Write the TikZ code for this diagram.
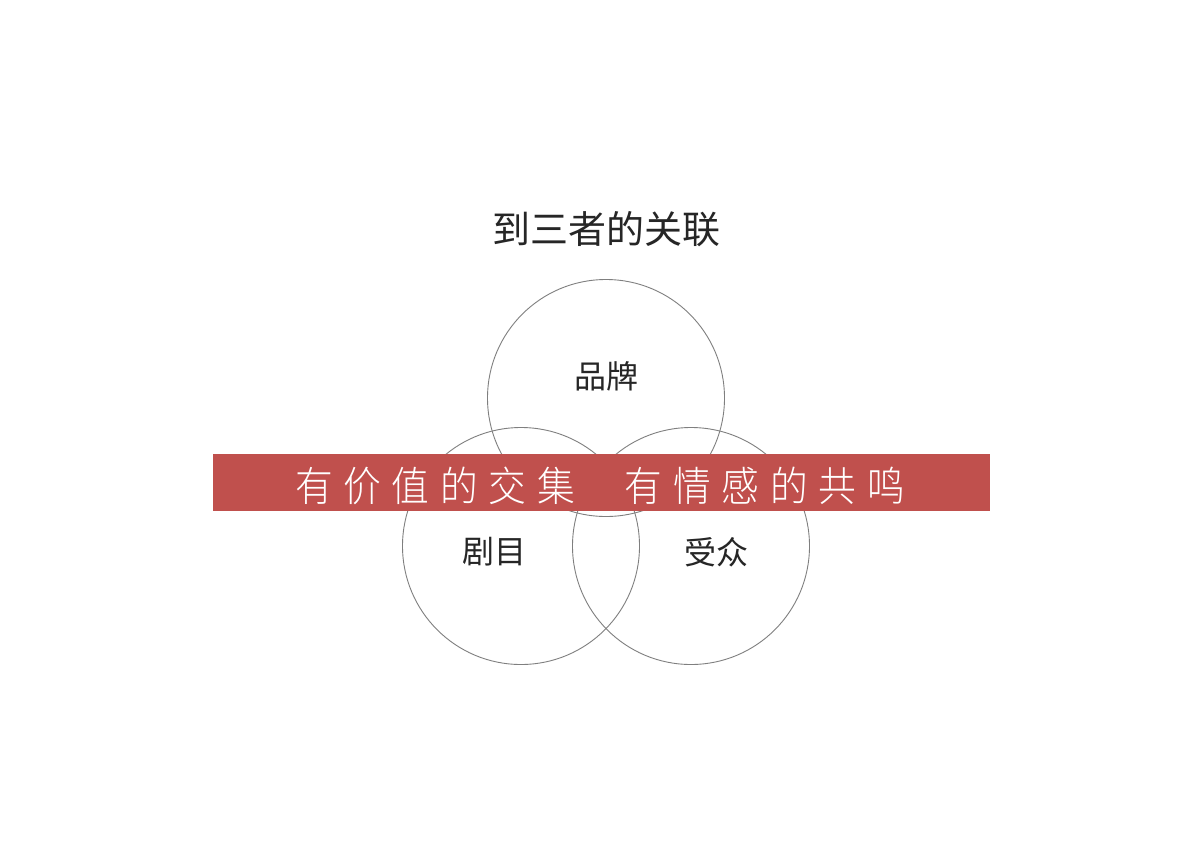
\documentclass[tikz,border=0pt]{standalone}
\usepackage{fontspec}
\newfontfamily\cjk{Noto Sans CJK SC}
\newfontfamily\cjkl{Noto Sans CJK SC Light}
\definecolor{bandred}{HTML}{C0504D}
\definecolor{ringgray}{HTML}{7F7F7F}
\newcommand{\spc}[1]{#1\kern 11.7pt}
\begin{document}
\begin{tikzpicture}[x=1pt,y=-1pt,
  ring/.style={draw=ringgray,line width=0.9pt},
  lbl/.style={font=\cjk\fontsize{32}{36}\selectfont,text=black!85,inner sep=0pt}]
\useasboundingbox (0,0) rectangle (1200,847);
\fill[white] (0,0) rectangle (1200,847);
\node[font=\cjk\fontsize{38}{42}\selectfont,text=black!85,inner sep=0pt] (title) at (606,229) {到三者的关联};
\draw[ring] (606,398) circle (118.5);
\draw[ring] (521,546) circle (118.5);
\draw[ring] (691,546) circle (118.5);
\node[lbl] (brand) at (606,376) {品牌};
\node[lbl] (play) at (494,552) {剧目};
\node[lbl] (aud) at (716,552) {受众};
\fill[bandred] (213,454) rectangle (990,511);
\node[font=\cjkl\fontsize{41}{44}\selectfont,text=white,inner sep=0pt,xscale=0.92] (band) at (600,486)
 {\spc{有}\spc{价}\spc{值}\spc{的}\spc{交}集\kern 54pt\spc{有}\spc{情}\spc{感}\spc{的}\spc{共}鸣};
\end{tikzpicture}
\end{document}
